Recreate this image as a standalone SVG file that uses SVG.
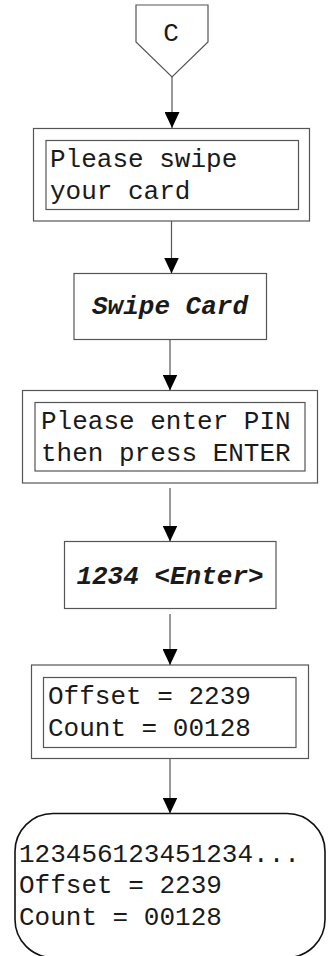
<svg xmlns="http://www.w3.org/2000/svg" width="333" height="956" viewBox="0 0 333 956">
  <style>
    .frame { fill: #ffffff; stroke: #555555; stroke-width: 1.2; }
    .term { fill: #ffffff; stroke: #111111; stroke-width: 1.6; }
    .txt { font-family: "Liberation Mono", "Courier New", monospace; font-size: 26px; fill: #1a1a1a; }
    .act { font-family: "Liberation Mono", "Courier New", monospace; font-size: 26px; font-weight: bold; font-style: italic; fill: #1a1a1a; text-anchor: middle; }
    .link { stroke: #555555; stroke-width: 1.2; fill: none; marker-end: url(#arrow); }
  </style>
  <defs>
    <marker id="arrow" viewBox="0 0 16 15" refX="16" refY="7.5" markerWidth="16" markerHeight="15" markerUnits="userSpaceOnUse" orient="auto">
      <path d="M0,0 L16,7.5 L0,15 Z" fill="#000000"/>
    </marker>
  </defs>

  <rect width="333" height="956" fill="#ffffff"/>

  <!-- off-page connector C -->
  <g id="connector-c">
    <polygon class="frame" points="136,5 208,5 208,42 172,77 136,42"/>
    <text class="txt" x="171" y="41" text-anchor="middle">C</text>
  </g>

  <!-- display: swipe prompt -->
  <g id="display-swipe">
    <rect class="frame" x="33.5" y="128.5" width="276" height="92.5"/>
    <rect class="frame" x="46" y="140.5" width="252.5" height="69"/>
    <text class="txt" x="50" y="166.5">Please swipe</text>
    <text class="txt" x="50" y="199">your card</text>
  </g>

  <!-- action: swipe card -->
  <g id="action-swipe">
    <rect class="frame" x="74" y="273.5" width="192.5" height="66"/>
    <text class="act" x="170" y="314">Swipe Card</text>
  </g>

  <!-- display: PIN prompt -->
  <g id="display-pin">
    <rect class="frame" x="22.5" y="390.5" width="295" height="92.5"/>
    <rect class="frame" x="35" y="402.5" width="270" height="68.5"/>
    <text class="txt" x="41" y="428.5">Please enter PIN</text>
    <text class="txt" x="41" y="461">then press ENTER</text>
  </g>

  <!-- action: enter PIN -->
  <g id="action-pin">
    <rect class="frame" x="64.5" y="541.5" width="211.5" height="67"/>
    <text class="act" x="170" y="584">1234 &lt;Enter&gt;</text>
  </g>

  <!-- display: offset and count -->
  <g id="display-offset">
    <rect class="frame" x="31.5" y="665" width="277" height="93.5"/>
    <rect class="frame" x="43.5" y="677.5" width="252.5" height="70"/>
    <text class="txt" x="48" y="704">Offset = 2239</text>
    <text class="txt" x="48" y="736">Count = 00128</text>
  </g>

  <!-- terminal: final output -->
  <g id="terminal-output">
    <rect class="term" x="15" y="813.5" width="310" height="144" rx="38" ry="38"/>
    <text class="txt" x="19" y="861.5">123456123451234...</text>
    <text class="txt" x="19" y="893">Offset = 2239</text>
    <text class="txt" x="19" y="925">Count = 00128</text>
  </g>

  <!-- flow connectors -->
  <g id="connectors">
    <line class="link" x1="172" y1="77" x2="172" y2="128"/>
    <line class="link" x1="171.5" y1="221" x2="171.5" y2="273.5"/>
    <line class="link" x1="170" y1="339.5" x2="170" y2="390.5"/>
    <line class="link" x1="170" y1="488" x2="170" y2="541.5"/>
    <line class="link" x1="170" y1="614" x2="170" y2="665"/>
    <line class="link" x1="170" y1="758.5" x2="170" y2="813.5"/>
  </g>
</svg>
